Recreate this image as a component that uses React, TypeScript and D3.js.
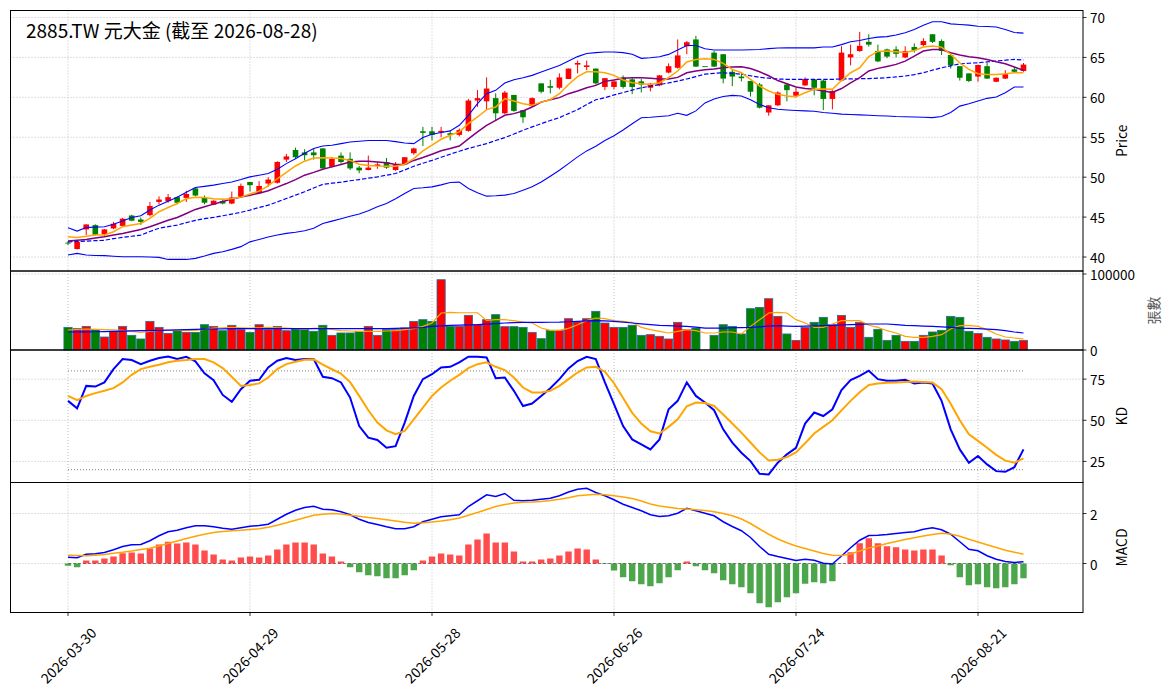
import React from 'react';
import * as d3 from 'd3';

const FONT = '"Noto Sans CJK TC", "Noto Sans CJK JP", "Noto Sans", sans-serif';
const TITLE = '2885.TW 元大金 (截至 2026-08-28)';

const TICK_INDEX = [0, 20, 40, 60, 80, 100];
const TICK_LABELS = ['2026-03-30', '2026-04-29', '2026-05-28', '2026-06-26', '2026-07-24', '2026-08-21'];

const PRICE_TICKS = [40, 45, 50, 55, 60, 65, 70];
const VOL_TICKS = [0, 100000];
const KD_TICKS = [25, 50, 75];
const KD_REF = [20, 80];
const MACD_TICKS = [0, 2];

const OPEN = [
  41.8, 41.0, 43.46, 44.0, 42.87, 43.58, 43.9, 45.2, 44.7, 45.25,
  46.9, 47.0, 47.5, 47.4, 48.6, 47.4, 46.55, 47.0, 46.7, 47.55,
  49.4, 48.0, 49.2, 49.3, 52.2, 53.4, 53.1, 53.1, 53.6, 51.3,
  52.7, 52.3, 51.2, 50.9, 51.4, 51.9, 50.9, 51.6, 53.0, 55.75,
  55.75, 55.6, 55.5, 55.3, 55.8, 59.6, 59.5, 59.9, 58.0, 60.3,
  58.4, 58.9, 61.75, 61.4, 61.2, 62.3, 64.1, 63.8, 63.6, 61.3,
  61.3, 62.5, 62.25, 62.0, 61.2, 61.5, 63.1, 63.7, 66.4, 67.25,
  63.9, 65.6, 65.4, 63.2, 62.6, 62.05, 61.6, 58.1, 59.0, 61.6,
  60.2, 61.5, 62.25, 62.1, 59.8, 62.1, 65.0, 65.8, 66.95, 65.8,
  66.0, 66.0, 65.0, 66.3, 66.55, 67.9, 67.05, 65.3, 63.9, 63.0,
  62.6, 63.9, 61.95, 62.35, 63.5, 63.3,
];
const HIGH = [
  42.0, 41.95, 44.1, 44.1, 43.5, 44.4, 44.9, 45.3, 44.95, 46.9,
  47.6, 47.9, 47.6, 48.3, 48.7, 47.7, 47.1, 47.3, 48.2, 49.2,
  49.4, 49.5, 50.0, 52.0, 52.9, 53.7, 53.5, 53.6, 53.65, 52.5,
  53.1, 53.1, 51.4, 52.7, 51.9, 52.4, 51.9, 52.5, 53.7, 56.3,
  56.3, 56.3, 55.8, 56.1, 59.8, 60.9, 62.5, 60.5, 60.8, 60.3,
  58.4, 60.0, 61.75, 62.2, 63.0, 63.6, 64.6, 64.6, 63.6, 62.4,
  62.1, 62.75, 62.5, 62.3, 61.8, 62.8, 64.25, 67.25, 67.05, 67.7,
  63.9, 65.8, 65.4, 63.5, 63.1, 62.05, 61.8, 59.0, 60.75, 61.8,
  61.2, 62.5, 62.3, 62.2, 60.9, 66.4, 66.6, 68.2, 67.9, 66.6,
  66.1, 66.4, 66.4, 66.75, 67.4, 67.9, 67.25, 65.3, 63.9, 63.0,
  64.1, 64.3, 62.5, 63.4, 63.8, 64.3,
];
const LOW = [
  41.5, 40.95, 42.75, 42.7, 42.5, 43.5, 43.8, 44.5, 44.04, 45.1,
  46.6, 46.8, 46.6, 46.9, 47.6, 46.6, 46.5, 46.6, 46.6, 47.45,
  48.2, 47.9, 48.8, 49.2, 51.9, 52.3, 52.1, 52.2, 51.05, 51.2,
  51.7, 50.9, 50.5, 50.85, 51.05, 51.05, 50.8, 51.6, 52.8, 53.9,
  54.6, 55.0, 54.6, 55.1, 55.7, 58.8, 58.4, 57.1, 57.9, 58.2,
  56.8, 58.8, 60.5, 60.5, 61.0, 62.3, 63.0, 63.4, 61.6, 60.9,
  61.0, 61.1, 60.4, 60.6, 60.75, 61.4, 63.0, 63.6, 65.4, 63.8,
  63.9, 63.8, 61.75, 61.4, 62.0, 60.1, 58.6, 57.7, 58.9, 59.5,
  60.0, 61.4, 60.25, 58.4, 58.5, 62.0, 64.0, 65.7, 66.35, 64.4,
  64.9, 65.0, 64.9, 65.6, 66.4, 66.8, 65.3, 63.6, 62.1, 61.9,
  61.96, 62.3, 61.9, 62.3, 63.05, 63.2,
];
const CLOSE = [
  41.7, 41.9, 44.08, 42.8, 43.46, 44.17, 44.8, 44.55, 44.4, 46.4,
  47.2, 47.5, 46.8, 47.9, 47.7, 46.8, 47.05, 46.7, 47.46, 48.9,
  49.0, 48.9, 49.7, 51.9, 52.6, 52.5, 52.75, 52.75, 51.1, 52.3,
  51.9, 51.1, 50.85, 51.2, 51.6, 51.2, 51.6, 52.5, 53.6, 55.55,
  55.3, 55.8, 55.3, 55.9, 59.6, 59.9, 61.1, 58.0, 60.6, 58.3,
  57.5, 59.9, 60.7, 61.2, 62.5, 63.6, 64.3, 64.0, 61.75, 62.4,
  62.0, 61.3, 61.3, 61.6, 61.7, 62.75, 63.9, 65.25, 66.9, 63.85,
  63.9, 63.85, 62.35, 62.6, 62.4, 60.7, 58.7, 59.0, 60.6, 60.9,
  60.7, 62.3, 61.2, 59.8, 60.8, 65.6, 65.4, 66.45, 66.6, 64.5,
  65.1, 65.45, 65.8, 65.9, 67.05, 66.95, 65.8, 64.0, 62.45, 62.05,
  64.05, 62.35, 62.45, 62.9, 63.2, 64.1,
];

const MA5 = [
  42.54, 42.46, 42.6, 42.75, 42.75, 43.17, 43.8, 44.0, 44.2, 44.83,
  45.67, 46.2, 46.7, 47.3, 47.5, 47.46, 47.3, 47.25, 47.3, 47.5,
  47.9, 48.25, 48.9, 49.8, 50.6, 51.4, 52.0, 52.4, 52.43, 52.4,
  52.33, 52.1, 51.625, 51.46, 51.4, 51.375, 51.375, 51.625, 52.33, 53.3,
  54.0, 54.75, 55.25, 55.67, 56.7, 57.54, 58.46, 58.79, 59.83, 59.54,
  59.2, 59.0, 59.4, 59.7, 60.46, 61.6, 62.6, 63.2, 63.2, 63.08,
  62.75, 62.17, 61.83, 61.7, 61.6, 61.83, 62.46, 63.3, 64.42, 64.75,
  64.83, 64.75, 64.25, 63.5, 63.08, 62.25, 61.42, 60.8, 60.375, 60.17,
  60.08, 60.58, 61.0, 61.05, 61.0, 62.1, 63.08, 63.7, 65.1, 65.75,
  65.8, 65.7, 65.625, 65.875, 66.29, 66.42, 66.29, 65.375, 64.33, 63.5,
  62.96, 62.875, 62.875, 62.96, 63.08, 63.08,
];
const MA10 = [
  42.0, 42.1, 42.2, 42.37, 42.54, 42.75, 42.96, 43.2, 43.46, 43.8,
  44.2, 44.6, 44.96, 45.45, 45.96, 46.3, 46.625, 46.95, 47.25, 47.5,
  47.75, 48.0, 48.3, 48.75, 49.2, 49.7, 50.25, 50.6, 51.0, 51.29,
  51.6, 51.9, 52.0, 52.0, 51.9, 51.8, 51.6, 51.6, 52.1, 52.46,
  52.875, 53.3, 53.6, 53.9, 54.8, 55.67, 56.5, 57.125, 57.75, 57.96,
  58.29, 58.79, 59.4, 59.7, 59.96, 60.46, 60.8, 61.2, 61.5, 62.0,
  62.17, 62.4, 62.46, 62.46, 62.4, 62.3, 62.3, 62.5, 63.08, 63.3,
  63.45, 63.55, 63.7, 63.8, 63.83, 63.6, 63.2, 62.7, 62.1, 61.7,
  61.3, 61.1, 61.0, 60.8, 60.6, 61.1, 61.8, 62.46, 63.3, 63.625,
  63.875, 64.125, 64.54, 65.17, 65.8, 66.0, 66.0, 65.58, 65.3, 65.08,
  64.96, 64.75, 64.46, 64.2, 63.8, 63.375,
];
const MA20 = [
  41.9, 41.95, 42.0, 42.05, 42.1, 42.3, 42.46, 42.6, 42.75, 43.2,
  43.6, 43.8, 44.0, 44.3, 44.6, 44.8, 44.96, 45.17, 45.375, 45.6,
  45.875, 46.2, 46.5, 46.9, 47.33, 47.75, 48.17, 48.65, 49.1, 49.25,
  49.375, 49.55, 49.7, 49.87, 50.04, 50.25, 50.46, 50.9, 51.375, 51.75,
  52.1, 52.5, 52.875, 53.25, 53.6, 53.9, 54.2, 54.6, 54.96, 55.4,
  55.875, 56.3, 56.7, 57.1, 57.46, 57.96, 58.46, 59.1, 59.7, 59.96,
  60.3, 60.6, 60.9, 61.2, 61.4, 61.6, 61.8, 62.04, 62.3, 62.6,
  62.9, 63.0, 63.08, 63.0, 62.9, 62.7, 62.5, 62.4, 62.3, 62.25,
  62.25, 62.25, 62.25, 62.25, 62.25, 62.3, 62.3, 62.33, 62.35, 62.4,
  62.46, 62.55, 62.67, 62.85, 63.08, 63.4, 63.7, 63.95, 64.2, 64.27,
  64.33, 64.43, 64.54, 64.65, 64.75, 64.67,
];
const BB_UPPER = [
  43.67, 43.25, 43.7, 43.75, 43.8, 44.1, 44.5, 44.96, 45.17, 45.9,
  46.5, 47.0, 47.5, 48.1, 48.7, 48.85, 49.0, 49.2, 49.4, 49.7,
  50.04, 50.25, 50.46, 51.0, 51.7, 52.3, 53.0, 53.6, 53.9, 54.0,
  54.2, 54.4, 54.5, 54.6, 54.6, 54.6, 54.45, 54.29, 54.2, 54.96,
  55.375, 55.6, 55.8, 56.5, 57.75, 59.2, 60.46, 60.875, 61.8, 62.2,
  62.46, 62.75, 63.17, 63.58, 64.0, 64.54, 65.1, 65.5, 65.6, 65.67,
  65.67, 65.6, 65.4, 64.88, 64.96, 65.08, 65.38, 65.92, 66.5, 66.5,
  66.08, 65.92, 65.92, 65.92, 65.92, 65.95, 66.0, 66.1, 66.17, 66.2,
  66.2, 66.2, 66.2, 66.3, 66.3, 66.6, 66.96, 67.125, 67.375, 67.54,
  67.6, 67.8, 68.1, 68.5, 69.04, 69.46, 69.46, 69.2, 69.125, 69.04,
  68.9, 68.875, 68.8, 68.5, 68.125, 68.04,
];
const BB_LOWER = [
  40.25, 40.46, 40.25, 40.2, 40.17, 40.1, 40.04, 40.04, 40.04, 40.0,
  39.96, 39.7, 39.7, 39.7, 39.83, 40.125, 40.46, 40.67, 40.96, 41.3,
  41.9, 42.2, 42.5, 42.75, 42.96, 43.1, 43.3, 43.6, 44.2, 44.5,
  44.8, 45.1, 45.4, 45.8, 46.29, 46.7, 47.3, 47.96, 48.58, 48.67,
  48.79, 49.04, 49.33, 49.375, 48.58, 48.04, 47.625, 47.67, 47.75, 47.96,
  48.375, 48.79, 49.4, 50.125, 50.875, 51.7, 52.54, 53.29, 53.875, 54.6,
  55.2, 55.9, 56.7, 57.45, 57.5, 57.6, 57.7, 58.0, 57.75, 58.3,
  59.3, 59.8, 60.1, 60.25, 60.17, 59.7, 59.1, 58.7, 58.5, 58.42,
  58.35, 58.3, 58.25, 58.1, 58.0, 57.9, 57.85, 57.8, 57.75, 57.7,
  57.67, 57.6, 57.57, 57.54, 57.5, 57.46, 57.6, 58.1, 58.9, 59.2,
  59.54, 59.875, 60.04, 60.58, 61.3, 61.3,
];

const VOLUME = [
  29800, 28100, 31100, 26800, 17100, 24600, 31100, 19300, 14500, 37700,
  29800, 21900, 25400, 23200, 23200, 33300, 31100, 25400, 32500, 26800,
  23200, 33300, 26800, 31100, 25400, 28100, 26800, 24600, 32500, 19300,
  22400, 22400, 24600, 31100, 19300, 26800, 26800, 28900, 37700, 39900,
  37700, 92500, 31100, 31100, 45600, 33300, 39900, 46500, 30700, 30700,
  29800, 23200, 14900, 25900, 25900, 41200, 36800, 41200, 50900, 35500,
  29800, 29800, 32500, 19300, 20200, 18000, 14500, 36400, 26800, 28900,
  0, 19300, 33300, 31100, 21100, 54400, 56100, 67500, 44300, 21100,
  12700, 29800, 36400, 43000, 33300, 45600, 29800, 36400, 16700, 27200,
  12700, 19300, 11400, 11400, 19300, 23700, 25900, 44300, 43000, 24600,
  21900, 16700, 14500, 13200, 11400, 12700,
];
const VOL_MA5 = [
  26300, 27000, 27600, 27200, 26800, 26500, 26000, 24500, 23200, 24500,
  25800, 25800, 25800, 25800, 25800, 27000, 28900, 29300, 29800, 29300,
  28900, 29300, 29800, 29300, 28900, 28000, 27600, 28500, 28900, 27000,
  25400, 25000, 24600, 24600, 24600, 25000, 25400, 26700, 28100, 31100,
  35500, 48700, 49600, 49000, 49000, 49000, 39000, 39900, 39900, 38600,
  36800, 35500, 28900, 25900, 25900, 28500, 33300, 38600, 42100, 41200,
  38600, 37700, 36400, 29800, 26800, 24600, 22400, 24600, 26800, 25400,
  22400, 22400, 23700, 23700, 21100, 31100, 39900, 48700, 49600, 48700,
  39900, 35500, 29800, 29800, 34200, 38600, 38600, 38600, 32500, 29800,
  25400, 22400, 18000, 16700, 16700, 18000, 20200, 27600, 32000, 32500,
  31100, 26800, 21100, 17100, 15800, 14500,
];
const VOL_MA20 = [
  23700, 23800, 23900, 24000, 24200, 24500, 24800, 25100, 25400, 25600,
  25900, 26200, 26500, 26800, 27100, 27400, 27600, 27800, 28000, 28100,
  28100, 28100, 28100, 28100, 28100, 28100, 28100, 28100, 28100, 28100,
  28100, 28100, 28100, 28100, 28100, 28100, 28500, 28900, 29000, 29600,
  31100, 31800, 32500, 32800, 33000, 33300, 34000, 34800, 35500, 36000,
  36400, 36400, 36400, 36500, 36700, 37200, 37700, 38200, 38600, 38200,
  37700, 36600, 35500, 34500, 33500, 32500, 32000, 31500, 31100, 30000,
  28900, 28900, 28900, 29300, 29500, 29800, 30500, 31300, 32000, 31500,
  31100, 31500, 31800, 32000, 32500, 32900, 33300, 33800, 34200, 34200,
  34200, 33300, 32500, 32000, 31500, 31100, 30500, 29800, 28900, 28400,
  28100, 27500, 26800, 25500, 23700, 22400,
];

const K_LINE = [
  61.8, 57.3, 70.9, 70.5, 73.0, 81.1, 87.2, 86.6, 84.1, 86.2,
  87.8, 88.8, 87.2, 88.6, 85.8, 78.5, 74.4, 65.4, 61.2, 68.9,
  74.0, 74.6, 82.1, 86.2, 87.8, 86.6, 87.2, 87.2, 76.4, 75.6,
  73.0, 63.8, 46.5, 39.4, 38.0, 33.3, 34.3, 48.6, 64.8, 75.0,
  78.0, 82.1, 82.5, 85.2, 88.6, 88.6, 88.2, 75.6, 76.0, 67.9,
  58.7, 60.2, 64.8, 69.5, 75.0, 81.5, 86.0, 88.6, 87.2, 73.0,
  59.8, 46.5, 38.4, 35.4, 32.3, 38.4, 56.7, 61.8, 73.0, 64.8,
  60.8, 56.1, 44.5, 36.4, 30.3, 25.2, 17.5, 17.1, 24.2, 29.3,
  33.3, 48.0, 54.7, 52.6, 56.7, 68.3, 74.4, 77.0, 80.1, 75.0,
  74.0, 74.0, 74.6, 72.4, 73.0, 72.4, 61.8, 44.5, 32.3, 24.2,
  28.3, 23.2, 19.1, 18.7, 21.5, 32.3,
];
const D_LINE = [
  64.8, 62.2, 64.8, 66.5, 67.9, 69.5, 73.0, 77.6, 81.1, 82.5,
  83.7, 85.2, 86.2, 86.6, 87.2, 87.2, 85.2, 81.7, 76.4, 70.9,
  71.5, 72.4, 76.0, 81.1, 84.1, 85.6, 86.8, 87.0, 83.8, 81.0,
  78.3, 73.2, 64.8, 56.1, 48.6, 43.9, 41.5, 43.5, 50.6, 57.7,
  64.8, 69.9, 74.0, 77.6, 81.7, 84.1, 85.2, 82.5, 80.5, 76.0,
  69.9, 66.9, 66.9, 67.9, 70.9, 75.0, 79.0, 82.1, 82.5, 79.5,
  72.5, 63.5, 54.5, 48.0, 43.3, 42.0, 46.0, 50.6, 58.5, 60.8,
  60.5, 58.7, 53.5, 48.0, 42.5, 36.5, 30.5, 25.6, 26.0, 27.6,
  30.5, 36.0, 42.0, 46.0, 50.0, 56.0, 61.8, 67.0, 71.5, 72.3,
  72.8, 73.0, 73.3, 73.5, 73.2, 72.9, 68.9, 60.0, 50.0, 41.5,
  37.5, 33.3, 29.0, 25.5, 24.2, 26.8,
];

const DIF = [
  0.25, 0.23, 0.37, 0.39, 0.44, 0.55, 0.68, 0.75, 0.76, 0.91,
  1.11, 1.27, 1.33, 1.43, 1.51, 1.51, 1.47, 1.41, 1.37, 1.43,
  1.49, 1.52, 1.57, 1.77, 1.97, 2.13, 2.24, 2.29, 2.17, 2.15,
  2.07, 1.95, 1.77, 1.64, 1.56, 1.47, 1.39, 1.39, 1.47, 1.67,
  1.77, 1.87, 1.91, 1.95, 2.28, 2.51, 2.75, 2.68, 2.8, 2.53,
  2.51, 2.53, 2.57, 2.61, 2.71, 2.86, 2.97, 3.01, 2.84, 2.71,
  2.55, 2.37, 2.24, 2.11, 1.95, 1.88, 1.91, 2.01, 2.21, 2.11,
  2.01, 1.91, 1.67, 1.48, 1.31, 1.04, 0.68, 0.37, 0.28, 0.2,
  0.12, 0.17, 0.13, 0.01, -0.02, 0.3, 0.63, 0.93, 1.12, 1.13,
  1.16, 1.2, 1.24, 1.27, 1.37, 1.43, 1.35, 1.17, 0.87, 0.57,
  0.51, 0.31, 0.17, 0.08, 0.04, 0.07,
];
const DEA = [
  0.33, 0.32, 0.31, 0.33, 0.36, 0.41, 0.45, 0.5, 0.56, 0.61,
  0.7, 0.8, 0.9, 1.0, 1.09, 1.17, 1.24, 1.28, 1.31, 1.33,
  1.36, 1.39, 1.45, 1.53, 1.63, 1.73, 1.83, 1.93, 1.97, 2.0,
  1.98, 1.93, 1.89, 1.84, 1.8, 1.75, 1.7, 1.65, 1.61, 1.63,
  1.66, 1.7, 1.75, 1.82, 1.93, 2.04, 2.16, 2.28, 2.36, 2.42,
  2.45, 2.46, 2.48, 2.52, 2.57, 2.63, 2.71, 2.74, 2.77, 2.75,
  2.71, 2.66, 2.6, 2.5, 2.38, 2.3, 2.25, 2.2, 2.18, 2.15,
  2.12, 2.07, 2.0, 1.91, 1.78, 1.6, 1.38, 1.17, 0.98, 0.83,
  0.7, 0.6, 0.5, 0.4, 0.33, 0.32, 0.38, 0.5, 0.62, 0.7,
  0.8, 0.88, 0.96, 1.03, 1.1, 1.16, 1.21, 1.18, 1.09, 0.97,
  0.86, 0.75, 0.64, 0.53, 0.45, 0.37,
];
const HIST = [
  -0.09, -0.15, 0.12, 0.12, 0.2, 0.28, 0.41, 0.44, 0.4, 0.6,
  0.76, 0.87, 0.8, 0.84, 0.76, 0.52, 0.36, 0.16, 0.12, 0.24,
  0.28, 0.24, 0.32, 0.56, 0.76, 0.84, 0.84, 0.76, 0.4, 0.28,
  0.08, -0.15, -0.35, -0.47, -0.51, -0.59, -0.59, -0.47, -0.27, 0.12,
  0.28, 0.4, 0.36, 0.32, 0.76, 0.96, 1.2, 0.84, 0.84, 0.48,
  0.08, 0.08, 0.16, 0.2, 0.32, 0.48, 0.6, 0.56, 0.16, -0.02,
  -0.28, -0.55, -0.71, -0.83, -0.91, -0.79, -0.55, -0.27, 0.08, -0.11,
  -0.27, -0.39, -0.67, -0.83, -0.95, -1.19, -1.59, -1.75, -1.55, -1.35,
  -1.19, -0.81, -0.75, -0.79, -0.71, 0.0, 0.45, 0.81, 1.01, 0.81,
  0.69, 0.65, 0.56, 0.52, 0.56, 0.56, 0.32, -0.07, -0.55, -0.87,
  -0.83, -0.95, -0.99, -0.95, -0.83, -0.59,
];

const W = 1171;
const H = 698;
const LEFT = 10.5;
const RIGHT = 1083;
const P_PRICE: [number, number] = [10.5, 271];
const P_VOL: [number, number] = [271, 350];
const P_KD: [number, number] = [350, 482.5];
const P_MACD: [number, number] = [482.5, 612.5];

const UP = '#ff0000';
const DOWN = '#008000';
const GRID = '#b0b0b0';

export default function App() {
  const n = CLOSE.length;
  const idx = d3.range(n);
  const x = d3.scaleLinear().domain([-6.32, 111.54]).range([LEFT, RIGHT]);
  const yP = d3.scaleLinear().domain([38.25, 70.875]).range([P_PRICE[1], P_PRICE[0]]);
  const yV = d3.scaleLinear().domain([0, 103950]).range([P_VOL[1], P_VOL[0]]);
  const yK = d3.scaleLinear().domain([12.2, 92.7]).range([P_KD[1], P_KD[0]]);
  const yM = d3.scaleLinear().domain([-1.96, 3.24]).range([P_MACD[1], P_MACD[0]]);

  const path = (vals: number[], y: d3.ScaleLinear<number, number>) =>
    d3.line<number>().x((_, i) => x(i)).y((v) => y(v))(vals) || '';

  const panels = [
    { r: P_PRICE, y: yP, ticks: PRICE_TICKS },
    { r: P_VOL, y: yV, ticks: VOL_TICKS },
    { r: P_KD, y: yK, ticks: KD_TICKS },
    { r: P_MACD, y: yM, ticks: MACD_TICKS },
  ];

  const candleW = 5.6;
  const volW = 8.2;
  const histW = 6.4;

  const colorOf = (i: number) => (CLOSE[i] > OPEN[i] ? UP : DOWN);

  return (
    <svg
      width={W}
      height={H}
      viewBox={`0 0 ${W} ${H}`}
      style={{ position: 'absolute', left: 0, top: 0, background: '#fff', fontFamily: FONT }}
    >
      <rect x={0} y={0} width={W} height={H} fill="#fff" />
      {panels.map((p, pi) => (
        <g key={'grid' + pi}>
          {TICK_INDEX.map((t) => (
            <line key={'v' + t} x1={x(t)} x2={x(t)} y1={p.r[0]} y2={p.r[1]} stroke={GRID} strokeWidth={0.8} strokeDasharray="1,2" />
          ))}
          {p.ticks.map((t) => (
            <line key={'h' + t} x1={LEFT} x2={RIGHT} y1={p.y(t)} y2={p.y(t)} stroke={GRID} strokeWidth={0.8} strokeDasharray="1,2" />
          ))}
        </g>
      ))}

      <g>
        {idx.map((i) => {
          const c = colorOf(i);
          const yo = yP(OPEN[i]);
          const yc = yP(CLOSE[i]);
          const top = Math.min(yo, yc);
          const h = Math.max(0.9, Math.abs(yo - yc));
          return (
            <g key={'c' + i}>
              <line x1={x(i)} x2={x(i)} y1={yP(HIGH[i])} y2={yP(LOW[i])} stroke={c} strokeWidth={1} />
              <rect x={x(i) - candleW / 2} y={top} width={candleW} height={h} fill={c} />
            </g>
          );
        })}
      </g>
      <path d={path(BB_UPPER, yP)} fill="none" stroke="#0000ff" strokeWidth={1.1} />
      <path d={path(BB_LOWER, yP)} fill="none" stroke="#0000ff" strokeWidth={1.1} />
      <path d={path(MA20, yP)} fill="none" stroke="#0000ff" strokeWidth={1.2} strokeDasharray="4.4,1.9" />
      <path d={path(MA10, yP)} fill="none" stroke="#800080" strokeWidth={1.5} />
      <path d={path(MA5, yP)} fill="none" stroke="#ffa500" strokeWidth={1.5} />

      <g>
        {idx.map((i) =>
          VOLUME[i] > 0 ? (
            <rect
              key={'v' + i}
              x={x(i) - volW / 2}
              y={yV(VOLUME[i])}
              width={volW}
              height={yV(0) - yV(VOLUME[i])}
              fill={colorOf(i)}
              stroke="#2b6c9c"
              strokeWidth={0.8}
            />
          ) : null
        )}
      </g>
      <path d={path(VOL_MA5, yV)} fill="none" stroke="#ffa500" strokeWidth={1.2} />
      <path d={path(VOL_MA20, yV)} fill="none" stroke="#0000ff" strokeWidth={1.2} />

      {KD_REF.map((r) => (
        <line key={'kr' + r} x1={x(0)} x2={x(n - 1)} y1={yK(r)} y2={yK(r)} stroke="#808080" strokeWidth={1} strokeDasharray="1,2" />
      ))}
      <path d={path(K_LINE, yK)} fill="none" stroke="#0000ff" strokeWidth={2} />
      <path d={path(D_LINE, yK)} fill="none" stroke="#ffa500" strokeWidth={2} />

      <line x1={x(0)} x2={x(n - 1)} y1={yM(0)} y2={yM(0)} stroke="#808080" strokeWidth={1} strokeDasharray="3,2" />
      <g>
        {idx.map((i) => {
          const v = HIST[i];
          if (v === 0) return null;
          const y0 = yM(0);
          const y1 = yM(v);
          return (
            <rect
              key={'h' + i}
              x={x(i) - histW / 2}
              y={Math.min(y0, y1)}
              width={histW}
              height={Math.abs(y1 - y0)}
              fill={v >= 0 ? '#ff0000' : '#008000'}
              fillOpacity={0.7}
            />
          );
        })}
      </g>
      <path d={path(DIF, yM)} fill="none" stroke="#0000ff" strokeWidth={1.5} />
      <path d={path(DEA, yM)} fill="none" stroke="#ffa500" strokeWidth={1.5} />

      {panels.map((p, pi) => (
        <g key={'f' + pi}>
          <rect x={LEFT} y={p.r[0]} width={RIGHT - LEFT} height={p.r[1] - p.r[0]} fill="none" stroke="#000" strokeWidth={1} />
          {p.ticks.map((t) => (
            <g key={'t' + t}>
              <line x1={RIGHT} x2={RIGHT + 3.5} y1={p.y(t)} y2={p.y(t)} stroke="#000" strokeWidth={0.8} />
              <text x={RIGHT + 7} y={p.y(t)} dominantBaseline="central" fontSize={13.5} fill="#000">
                {String(t)}
              </text>
            </g>
          ))}
        </g>
      ))}
      {TICK_INDEX.map((t, k) => (
        <g key={'xt' + t}>
          <line x1={x(t)} x2={x(t)} y1={P_MACD[1]} y2={P_MACD[1] + 3.5} stroke="#000" strokeWidth={0.8} />
          <text
            transform={`translate(${x(t)},655) rotate(-45)`}
            textAnchor="middle"
            dominantBaseline="central"
            fontSize={13.9}
            fill="#000"
          >
            {TICK_LABELS[k]}
          </text>
        </g>
      ))}

      <text transform={`translate(1121,${(P_PRICE[0] + P_PRICE[1]) / 2}) rotate(-90)`} textAnchor="middle" dominantBaseline="central" fontSize={13.9}>
        Price
      </text>
      <text transform={`translate(1153,${(P_VOL[0] + P_VOL[1]) / 2}) rotate(-90)`} textAnchor="middle" dominantBaseline="central" fontSize={13.9} fill="#555">
        張數
      </text>
      <text transform={`translate(1121,${(P_KD[0] + P_KD[1]) / 2}) rotate(-90)`} textAnchor="middle" dominantBaseline="central" fontSize={13.9}>
        KD
      </text>
      <text transform={`translate(1121,${(P_MACD[0] + P_MACD[1]) / 2}) rotate(-90)`} textAnchor="middle" dominantBaseline="central" fontSize={13.9}>
        MACD
      </text>

      <text x={26} y={37.5} fontSize={19} fill="#000">
        {TITLE}
      </text>
    </svg>
  );
}
